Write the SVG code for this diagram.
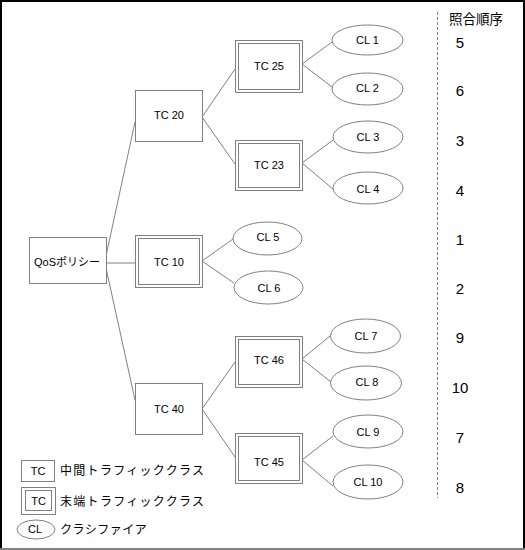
<svg xmlns="http://www.w3.org/2000/svg" width="525" height="550" viewBox="0 0 525 550">
<style>
.box{fill:#fff;stroke:#808080;stroke-width:1}
.ln{stroke:#808080;stroke-width:1;fill:none}
.t{font-family:"Liberation Sans","Noto Sans CJK JP",sans-serif;font-size:11px;fill:#000;text-anchor:middle;dominant-baseline:central}
.j{font-family:"Noto Sans CJK JP",sans-serif;font-size:12px;fill:#000;letter-spacing:1px;dominant-baseline:central}
.n{font-family:"Liberation Sans",sans-serif;font-size:15px;fill:#000;text-anchor:middle;dominant-baseline:central}
</style>
<rect width="525" height="550" fill="#fff"/>
<line x1="0" y1="1" x2="525" y2="1" stroke="#000" stroke-width="2"/>
<line x1="1" y1="0" x2="1" y2="550" stroke="#000" stroke-width="2"/>
<line x1="524" y1="0" x2="524" y2="550" stroke="#000" stroke-width="2"/>
<line x1="0" y1="549" x2="525" y2="549" stroke="#808080" stroke-width="2"/>

<g id="connectors">
<line class="ln" x1="106" y1="256" x2="135" y2="122"/>
<line class="ln" x1="106" y1="263" x2="135" y2="263"/>
<line class="ln" x1="106" y1="268" x2="135" y2="400"/>
<line class="ln" x1="202" y1="117" x2="235" y2="69"/>
<line class="ln" x1="202" y1="117" x2="235" y2="164"/>
<line class="ln" x1="302" y1="64" x2="332" y2="42"/>
<line class="ln" x1="302" y1="64" x2="332" y2="87"/>
<line class="ln" x1="302" y1="163" x2="333" y2="140"/>
<line class="ln" x1="302" y1="163" x2="333" y2="189"/>
<line class="ln" x1="202" y1="261" x2="233" y2="239"/>
<line class="ln" x1="202" y1="261" x2="234" y2="283"/>
<line class="ln" x1="202" y1="409" x2="235" y2="362"/>
<line class="ln" x1="202" y1="409" x2="235" y2="457"/>
<line class="ln" x1="302" y1="359" x2="330" y2="336"/>
<line class="ln" x1="302" y1="359" x2="331" y2="382"/>
<line class="ln" x1="302" y1="460" x2="333" y2="436"/>
<line class="ln" x1="302" y1="460" x2="333" y2="486"/>
</g>

<g id="qos"><rect class="box" x="29.5" y="237.5" width="77" height="46"/><text class="t" x="67" y="262">QoSポリシー</text></g>
<g id="tc20"><rect class="box" x="135.5" y="90.5" width="67" height="51"/><text class="t" x="169" y="115">TC 20</text></g>
<g id="tc10"><rect class="box" x="135.5" y="235.5" width="67" height="52"/><rect class="box" x="138.5" y="238.5" width="61" height="46"/><text class="t" x="169" y="262">TC 10</text></g>
<g id="tc40"><rect class="box" x="135.5" y="383.5" width="67" height="51"/><text class="t" x="169" y="409">TC 40</text></g>
<g id="tc25"><rect class="box" x="235.5" y="40.5" width="67" height="52"/><rect class="box" x="238.5" y="43.5" width="61" height="46"/><text class="t" x="269" y="66">TC 25</text></g>
<g id="tc23"><rect class="box" x="235.5" y="140.5" width="67" height="50"/><rect class="box" x="238.5" y="143.5" width="61" height="44"/><text class="t" x="269" y="165">TC 23</text></g>
<g id="tc46"><rect class="box" x="235.5" y="336.5" width="67" height="51"/><rect class="box" x="238.5" y="339.5" width="61" height="45"/><text class="t" x="269" y="360">TC 46</text></g>
<g id="tc45"><rect class="box" x="235.5" y="433.5" width="67" height="50"/><rect class="box" x="238.5" y="436.5" width="61" height="44"/><text class="t" x="269" y="462">TC 45</text></g>

<g id="cl1"><ellipse class="box" cx="367.5" cy="40" rx="35.5" ry="15"/><text class="t" x="367.5" y="40">CL 1</text></g>
<g id="cl2"><ellipse class="box" cx="367.5" cy="89" rx="35.5" ry="16"/><text class="t" x="367.5" y="88">CL 2</text></g>
<g id="cl3"><ellipse class="box" cx="368" cy="137" rx="35" ry="16"/><text class="t" x="368" y="137">CL 3</text></g>
<g id="cl4"><ellipse class="box" cx="368" cy="188" rx="35" ry="16"/><text class="t" x="368" y="189">CL 4</text></g>
<g id="cl5"><ellipse class="box" cx="267.5" cy="238.5" rx="34.5" ry="16.5"/><text class="t" x="268" y="237">CL 5</text></g>
<g id="cl6"><ellipse class="box" cx="268.5" cy="287.5" rx="34.5" ry="16.5"/><text class="t" x="269" y="288">CL 6</text></g>
<g id="cl7"><ellipse class="box" cx="365.5" cy="336" rx="35" ry="17"/><text class="t" x="366" y="336">CL 7</text></g>
<g id="cl8"><ellipse class="box" cx="366" cy="383" rx="35.5" ry="17"/><text class="t" x="367" y="382">CL 8</text></g>
<g id="cl9"><ellipse class="box" cx="368" cy="431.5" rx="35" ry="16.5"/><text class="t" x="368" y="432">CL 9</text></g>
<g id="cl10"><ellipse class="box" cx="368" cy="482" rx="35" ry="17"/><text class="t" x="368" y="482">CL 10</text></g>

<g id="order">
<line x1="437.5" y1="12" x2="437.5" y2="498" stroke="#808080" stroke-width="1" stroke-dasharray="3,2"/>
<text class="j" x="449" y="18" style="font-size:13.5px;letter-spacing:0">照合順序</text>
<text class="n" x="460" y="42">5</text>
<text class="n" x="460" y="90">6</text>
<text class="n" x="460" y="140">3</text>
<text class="n" x="460" y="190">4</text>
<text class="n" x="460" y="239">1</text>
<text class="n" x="460" y="288">2</text>
<text class="n" x="460" y="337">9</text>
<text class="n" x="460" y="387">10</text>
<text class="n" x="460" y="437">7</text>
<text class="n" x="460" y="487">8</text>
</g>

<g id="legend">
<rect class="box" x="21.5" y="460.5" width="33" height="21"/><text class="t" x="38" y="471">TC</text>
<text class="j" x="60" y="469" style="letter-spacing:1.3px">中間トラフィッククラス</text>
<rect class="box" x="21.5" y="487.5" width="34" height="27"/><rect class="box" x="25.5" y="490.5" width="26" height="20"/><text class="t" x="38.5" y="501">TC</text>
<text class="j" x="60" y="500" style="letter-spacing:1.3px">末端トラフィッククラス</text>
<ellipse class="box" cx="36" cy="529.5" rx="19" ry="9.5"/><text class="t" x="35" y="529">CL</text>
<text class="j" x="60" y="528" style="letter-spacing:0.5px">クラシファイア</text>
</g>
</svg>
